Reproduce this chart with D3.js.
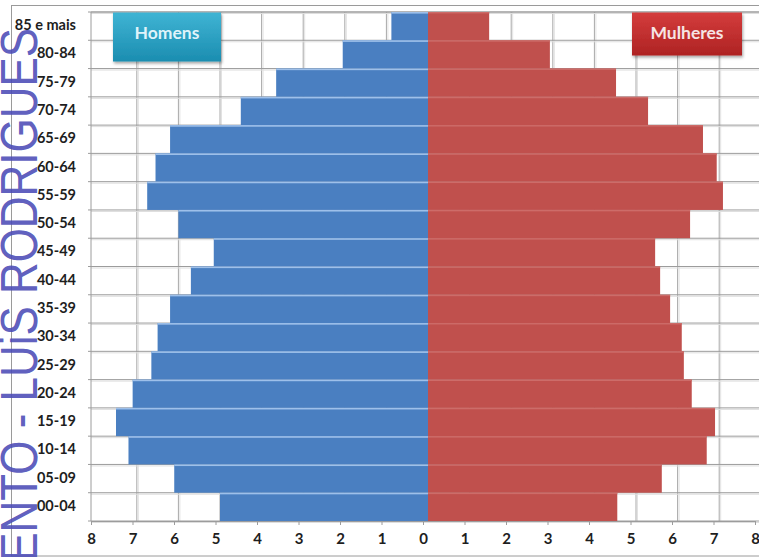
<!DOCTYPE html>
<html>
<head>
<meta charset="utf-8">
<script src="https://cdn.jsdelivr.net/npm/d3@7"></script>
<style>
  html, body { margin: 0; padding: 0; background: #ffffff; }
  svg { display: block; }
</style>
</head>
<body>
<svg id="chart" width="759" height="557"></svg>
<script>
// Age groups, youngest first
const ageGroups = ["00-04", "05-09", "10-14", "15-19", "20-24", "25-29", "30-34", "35-39",
  "40-44", "45-49", "50-54", "55-59", "60-64", "65-69", "70-74", "75-79", "80-84", "85 e mais"];

// Share of population (%) per age group
const homens = [5.0, 6.1, 7.2, 7.5, 7.1, 6.65, 6.5, 6.2, 5.7, 5.15, 6.0, 6.75, 6.55, 6.2, 4.5, 3.65, 2.05, 0.88];
const mulheres = [4.55, 5.62, 6.7, 6.9, 6.34, 6.15, 6.1, 5.82, 5.58, 5.46, 6.3, 7.09, 6.94, 6.61, 5.29, 4.52, 2.93, 1.47];

// Axis ticks (absolute values shown on both sides)
const tickValues = [-8, -7, -6, -5, -4, -3, -2, -1, 0, 1, 2, 3, 4, 5, 6, 7, 8];
const gridValues = [-7, -6, -5, -4, -3, -2, -1, 1, 2, 3, 4, 5, 6, 7];

const svg = d3.select("#chart");
const W = 759, H = 557;
const plotTop = 12, plotBottom = 521, plotLeft = 91;

// Outer frame
svg.append("rect").attr("x", 11.5).attr("y", 5.5).attr("width", W).attr("height", 550.5)
  .attr("fill", "#fff").attr("stroke", "#9a9a9a").attr("stroke-width", 1);

// Scales: bars/grid share one scale, axis labels sit on a slightly shifted one
const x = d3.scaleLinear().domain([-8, 8]).range([95.2, 760.8]);
const xAxisScale = d3.scaleLinear().domain([-8, 8]).range([91, 755]);
const y = d3.scaleBand().domain(ageGroups.slice().reverse()).range([plotTop, plotBottom]).padding(0);

const defs = svg.append("defs");
const gBlue = defs.append("linearGradient").attr("id", "gHom").attr("x1", 0).attr("y1", 0).attr("x2", 0).attr("y2", 1);
gBlue.append("stop").attr("offset", "0%").attr("stop-color", "#3fb4d4");
gBlue.append("stop").attr("offset", "100%").attr("stop-color", "#1b8db0");
const gRed = defs.append("linearGradient").attr("id", "gMul").attr("x1", 0).attr("y1", 0).attr("x2", 0).attr("y2", 1);
gRed.append("stop").attr("offset", "0%").attr("stop-color", "#d43c3c");
gRed.append("stop").attr("offset", "100%").attr("stop-color", "#ae2323");
const sh = defs.append("filter").attr("id", "shadow").attr("x", "-10%").attr("y", "-10%").attr("width", "130%").attr("height", "140%");
sh.append("feDropShadow").attr("dx", 1).attr("dy", 2).attr("stdDeviation", 1.5).attr("flood-color", "#000").attr("flood-opacity", 0.35);

// Grid
const grid = svg.append("g");
grid.selectAll("line.vs").data(gridValues).join("line")
  .attr("x1", d => x(d) + 1.5).attr("x2", d => x(d) + 1.5)
  .attr("y1", plotTop).attr("y2", plotBottom)
  .attr("stroke", "#e2e2e2").attr("stroke-width", 1);
grid.selectAll("line.v").data(gridValues).join("line")
  .attr("x1", d => x(d)).attr("x2", d => x(d))
  .attr("y1", plotTop).attr("y2", plotBottom)
  .attr("stroke", "#a8a8a8").attr("stroke-width", 1);
const bounds = ageGroups.map(a => y(a)).concat([plotBottom]);
grid.selectAll("line.hs").data(bounds).join("line")
  .attr("x1", plotLeft).attr("x2", W).attr("y1", d => d + 1.5).attr("y2", d => d + 1.5)
  .attr("stroke", "#dedede").attr("stroke-width", 1);
grid.selectAll("line.h").data(bounds).join("line")
  .attr("x1", plotLeft - 3).attr("x2", W).attr("y1", d => d).attr("y2", d => d)
  .attr("stroke", "#9c9c9c").attr("stroke-width", 1);
grid.append("line").attr("x1", plotLeft).attr("x2", plotLeft).attr("y1", plotTop).attr("y2", plotBottom)
  .attr("stroke", "#9c9c9c");
grid.append("line").attr("x1", plotLeft).attr("x2", W).attr("y1", plotTop).attr("y2", plotTop)
  .attr("stroke", "#9c9c9c");

// Bars
const rows = ageGroups.map((a, i) => ({ age: a, h: homens[i], m: mulheres[i] }));
const bars = svg.append("g");
bars.selectAll("rect.hom").data(rows).join("rect")
  .attr("x", d => x(-d.h)).attr("width", d => x(0) - x(-d.h))
  .attr("y", d => y(d.age)).attr("height", y.bandwidth())
  .attr("fill", "#4a7fc1");
bars.selectAll("rect.homTop").data(rows).join("rect")
  .attr("x", d => x(-d.h)).attr("width", d => x(0) - x(-d.h))
  .attr("y", d => y(d.age)).attr("height", 1.6)
  .attr("fill", "#9ec0ea");
bars.selectAll("rect.mul").data(rows).join("rect")
  .attr("x", x(0)).attr("width", d => x(d.m) - x(0))
  .attr("y", d => y(d.age)).attr("height", y.bandwidth())
  .attr("fill", "#c0504d");
bars.selectAll("rect.mulTop").data(rows).join("rect")
  .attr("x", x(0)).attr("width", d => x(d.m) - x(0))
  .attr("y", d => y(d.age)).attr("height", 1.4)
  .attr("fill", "#cd6c69");

// Bottom axis
const axis = d3.axisBottom(xAxisScale).tickValues(tickValues).tickFormat(d => Math.abs(d)).tickSize(4).tickPadding(8);
const ax = svg.append("g").attr("transform", `translate(0,${plotBottom})`).call(axis);
ax.select(".domain").attr("stroke", "#9c9c9c");
ax.selectAll(".tick line").attr("stroke", "#9c9c9c");
ax.selectAll(".tick text").attr("font-family", "Lato, 'Open Sans', sans-serif")
  .attr("font-weight", 700).attr("font-size", 15).attr("fill", "#1e1e1e");

// Age group labels
svg.append("g").selectAll("text").data(ageGroups).join("text")
  .attr("x", 76).attr("y", d => y(d) + y.bandwidth() / 2 - 1)
  .attr("dy", "0.35em").attr("text-anchor", "end")
  .attr("font-family", "Lato, 'Open Sans', sans-serif").attr("font-weight", 700)
  .attr("font-size", 14.5).attr("fill", "#1e1e1e")
  .text(d => d);

// Legend boxes
const legend = [
  { label: "Homens", x: 113, y: 12.5, w: 108, h: 49, fill: "url(#gHom)", text: "#dff3fa" },
  { label: "Mulheres", x: 632, y: 12.5, w: 110, h: 43, fill: "url(#gMul)", text: "#f6e4e4" }
];
const lg = svg.append("g").selectAll("g").data(legend).join("g");
lg.append("rect").attr("x", d => d.x).attr("y", d => d.y).attr("width", d => d.w).attr("height", d => d.h)
  .attr("fill", d => d.fill).attr("filter", "url(#shadow)");
lg.append("text").attr("x", d => d.x + d.w / 2).attr("y", 39)
  .attr("text-anchor", "middle").attr("font-family", "Lato, 'Open Sans', sans-serif")
  .attr("font-weight", 700).attr("font-size", 17.5).attr("fill", d => d.text)
  .text(d => d.label);

// Author mark along the left edge (condensed along the reading direction)
svg.append("text")
  .attr("transform", "translate(37,28) rotate(-90) scale(0.845,1)")
  .attr("text-anchor", "end")
  .attr("font-family", "'Liberation Sans', Arial, sans-serif")
  .attr("font-size", 52).attr("fill", "#4b4bb6").attr("fill-opacity", 0.9)
  .text("ENTO - LUiS RODRIGUES");
</script>
</body>
</html>
